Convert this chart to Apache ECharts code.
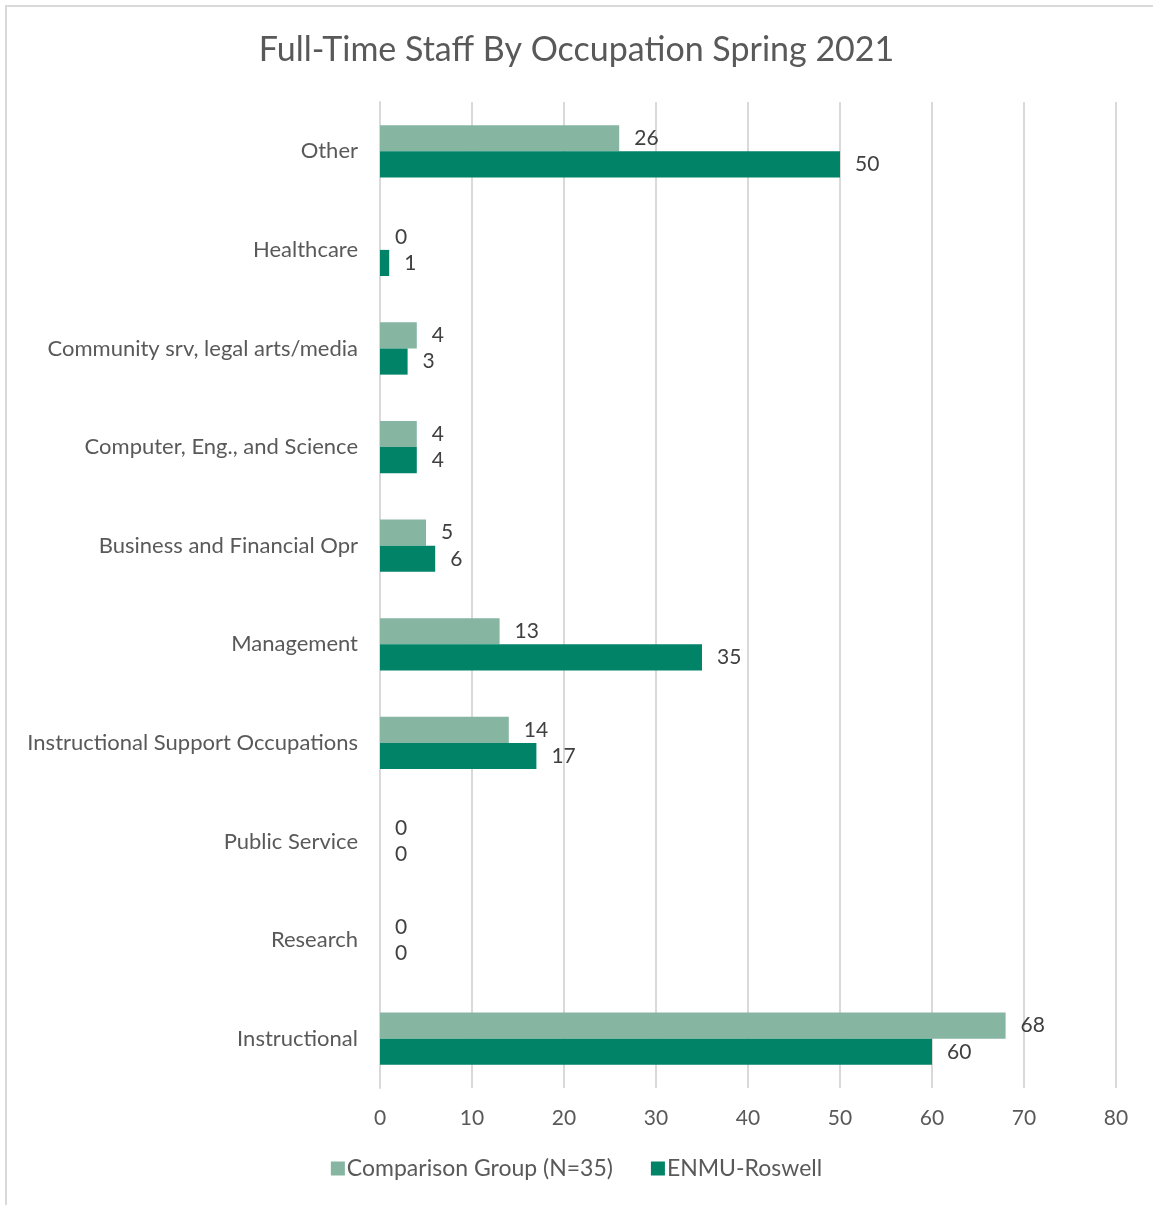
<!DOCTYPE html>
<html>
<head>
<meta charset="utf-8">
<script src="https://cdn.jsdelivr.net/npm/echarts@6/dist/echarts.min.js"></script>
<style>html,body{margin:0;padding:0;background:#fff}#c{width:1153px;height:1205px}</style>
</head>
<body>
<div id="c"></div>
<script>
const categories = ['Instructional','Research','Public Service','Instructional Support Occupations','Management','Business and Financial Opr','Computer, Eng., and Science','Community srv, legal arts/media','Healthcare','Other'];
const comparison = [68,0,0,14,13,5,4,4,0,26];
const enmu = [60,0,0,17,35,6,4,3,1,50];
const xTicks = [0,10,20,30,40,50,60,70,80];

const chart = echarts.init(document.getElementById('c'));
const font = 'Lato, "Open Sans", sans-serif';
chart.setOption({
  animation:false,
  textStyle:{fontFamily:font},
  graphic:[{type:'rect',shape:{x:6,y:6,width:1200,height:1250},style:{fill:'none',stroke:'#d9d9d9',lineWidth:2}}],
  title:{text:'Full-Time Staff By Occupation Spring 2021',left:'center',top:28,textStyle:{fontFamily:font,fontSize:34,fontWeight:'normal',color:'#595959'}},
  legend:{bottom:20,left:'center',itemWidth:14,itemHeight:14,itemGap:38,icon:'rect',data:['Comparison Group (N=35)','ENMU-Roswell'],textStyle:{fontFamily:font,fontSize:23,color:'#595959',padding:[0,0,0,-3]}},
  grid:{left:380,right:37,top:102,bottom:117},
  xAxis:{type:'value',min:0,max:80,interval:10,
    axisLine:{show:false},axisTick:{show:false},
    splitLine:{lineStyle:{color:'#d9d9d9',width:2}},
    axisLabel:{margin:20,fontSize:21,color:'#595959',fontFamily:font,formatter:v=>xTicks.includes(v)?String(v):''}},
  yAxis:{type:'category',data:categories,
    axisLine:{lineStyle:{color:'#d9d9d9',width:2}},axisTick:{show:false},
    axisLabel:{margin:22,fontSize:22,color:'#595959',fontFamily:font}},
  series:[
    {name:'Comparison Group (N=35)',type:'bar',data:comparison,barGap:'0%',barCategoryGap:'47%',itemStyle:{color:'#86b5a2'},
      label:{show:true,position:'right',distance:15,fontSize:21,color:'#404040',fontFamily:font,padding:[3,0,0,0]}},
    {name:'ENMU-Roswell',type:'bar',data:enmu,barGap:'0%',barCategoryGap:'47%',itemStyle:{color:'#008366'},
      label:{show:true,position:'right',distance:15,fontSize:21,color:'#404040',fontFamily:font,padding:[3,0,0,0]}}
  ]
});
</script>
</body>
</html>
